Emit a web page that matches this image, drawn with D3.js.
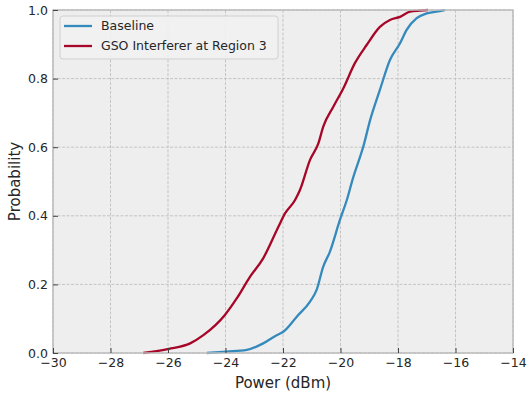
<!DOCTYPE html>
<html>
<head>
<meta charset="utf-8">
<script src="https://cdn.jsdelivr.net/npm/d3@7"></script>
<style>
  body { margin: 0; background: #ffffff; }
  text { font-family: "DejaVu Sans", sans-serif; fill: #262626; }
</style>
</head>
<body>
<div id="chart"></div>
<script>
// CDF curves (power in dBm, cumulative probability)
const baselinePower = [-24.65, -23.96, -23.26, -22.69, -22.22, -21.99, -21.52, -21.06, -20.83, -20.60,
  -20.37, -20.02, -19.78, -19.55, -19.32, -19.21, -18.97, -18.63, -18.28, -17.93, -17.70, -17.35,
  -17.00, -16.54, -16.37];
const baselineProb = [0.0, 0.004, 0.009, 0.028, 0.052, 0.062, 0.106, 0.150, 0.184, 0.252,
  0.295, 0.388, 0.446, 0.514, 0.572, 0.601, 0.679, 0.767, 0.854, 0.903, 0.942, 0.976,
  0.990, 0.997, 1.0];

const gsoPower = [-26.86, -25.97, -25.23, -24.77, -24.02, -23.61, -23.15, -22.69, -22.16, -21.93,
  -21.58, -21.41, -21.06, -20.77, -20.60, -20.25, -19.90, -19.50, -19.09, -18.63, -18.28, -17.93,
  -17.58, -17.24, -16.96];
const gsoProb = [0.0, 0.012, 0.028, 0.052, 0.111, 0.159, 0.222, 0.276, 0.368, 0.407,
  0.446, 0.475, 0.563, 0.611, 0.660, 0.718, 0.772, 0.845, 0.898, 0.951, 0.971, 0.980,
  0.995, 0.998, 1.0];

const seriesNames = ["Baseline", "GSO Interferer at Region 3"];
const seriesColors = ["#348ABD", "#A60628"];
const xTicks = [-30, -28, -26, -24, -22, -20, -18, -16, -14];
const yTicks = [0.0, 0.2, 0.4, 0.6, 0.8, 1.0];

const width = 528, height = 397;
const margin = {top: 10, right: 15, bottom: 44, left: 53};
const innerW = width - margin.left - margin.right;
const innerH = height - margin.top - margin.bottom;

const svg = d3.select("#chart").append("svg")
  .attr("width", width)
  .attr("height", height);

const g = svg.append("g")
  .attr("transform", "translate(" + margin.left + "," + margin.top + ")");

const x = d3.scaleLinear().domain([-30, -14]).range([0, innerW]);
const y = d3.scaleLinear().domain([0, 1]).range([innerH, 0]);

// plot background
g.append("rect")
  .attr("width", innerW)
  .attr("height", innerH)
  .attr("fill", "#eeeeee");

// grid
g.append("g").selectAll("line")
  .data(xTicks)
  .enter().append("line")
  .attr("x1", d => x(d)).attr("x2", d => x(d))
  .attr("y1", 0).attr("y2", innerH)
  .attr("stroke", "#c4c4c4")
  .attr("stroke-width", 1)
  .attr("stroke-dasharray", "3,1.5");

g.append("g").selectAll("line")
  .data(yTicks)
  .enter().append("line")
  .attr("x1", 0).attr("x2", innerW)
  .attr("y1", d => y(d)).attr("y2", d => y(d))
  .attr("stroke", "#c4c4c4")
  .attr("stroke-width", 1)
  .attr("stroke-dasharray", "3,1.5");

// curves
const series = [
  {power: baselinePower, prob: baselineProb},
  {power: gsoPower, prob: gsoProb}
];

const line = d3.line()
  .x(d => x(d[0]))
  .y(d => y(d[1]))
  .curve(d3.curveMonotoneX);

series.forEach((s, i) => {
  const pts = s.power.map((p, j) => [p, s.prob[j]]);
  g.append("path")
    .datum(pts)
    .attr("fill", "none")
    .attr("stroke", seriesColors[i])
    .attr("stroke-width", 2.3)
    .attr("stroke-linejoin", "round")
    .attr("d", line);
});

// frame
g.append("rect")
  .attr("width", innerW)
  .attr("height", innerH)
  .attr("fill", "none")
  .attr("stroke", "#bcbcbc")
  .attr("stroke-width", 1.5);

// axes
const xAxis = d3.axisBottom(x)
  .tickValues(xTicks)
  .tickSize(-5)
  .tickPadding(5)
  .tickFormat(d => d3.format("d")(d).replace("-", "\u2212"));

const gx = g.append("g")
  .attr("transform", "translate(0," + innerH + ")")
  .call(xAxis);
gx.select(".domain").remove();
gx.selectAll(".tick line").attr("stroke", "#444").attr("stroke-width", 1);
gx.selectAll(".tick text").style("font-size", "12.5px").attr("fill", "#262626");

const yAxis = d3.axisLeft(y)
  .tickValues(yTicks)
  .tickSize(-5)
  .tickPadding(5)
  .tickFormat(d3.format(".1f"));

const gy = g.append("g").call(yAxis);
gy.select(".domain").remove();
gy.selectAll(".tick line").attr("stroke", "#444").attr("stroke-width", 1);
gy.selectAll(".tick text").style("font-size", "12.5px").attr("fill", "#262626");

// axis labels
svg.append("text")
  .attr("x", margin.left + innerW / 2)
  .attr("y", 388)
  .attr("text-anchor", "middle")
  .style("font-size", "15px")
  .text("Power (dBm)");

svg.append("text")
  .attr("transform", "translate(20," + (margin.top + innerH / 2) + ") rotate(-90)")
  .attr("text-anchor", "middle")
  .style("font-size", "15px")
  .text("Probability");

// legend
const legend = g.append("g").attr("transform", "translate(7,6)");
legend.append("rect")
  .attr("width", 218)
  .attr("height", 43)
  .attr("rx", 3)
  .attr("fill", "#f1f1f1")
  .attr("fill-opacity", 0.9)
  .attr("stroke", "#d0d0d0")
  .attr("stroke-width", 1);

seriesNames.forEach((name, i) => {
  const row = legend.append("g").attr("transform", "translate(0," + (10 + i * 20) + ")");
  row.append("line")
    .attr("x1", 4).attr("x2", 32)
    .attr("y1", 0).attr("y2", 0)
    .attr("stroke", seriesColors[i])
    .attr("stroke-width", 2.3);
  row.append("text")
    .attr("x", 41)
    .attr("y", 0)
    .attr("dy", "0.35em")
    .style("font-size", "12.5px")
    .text(name);
});
</script>
</body>
</html>
